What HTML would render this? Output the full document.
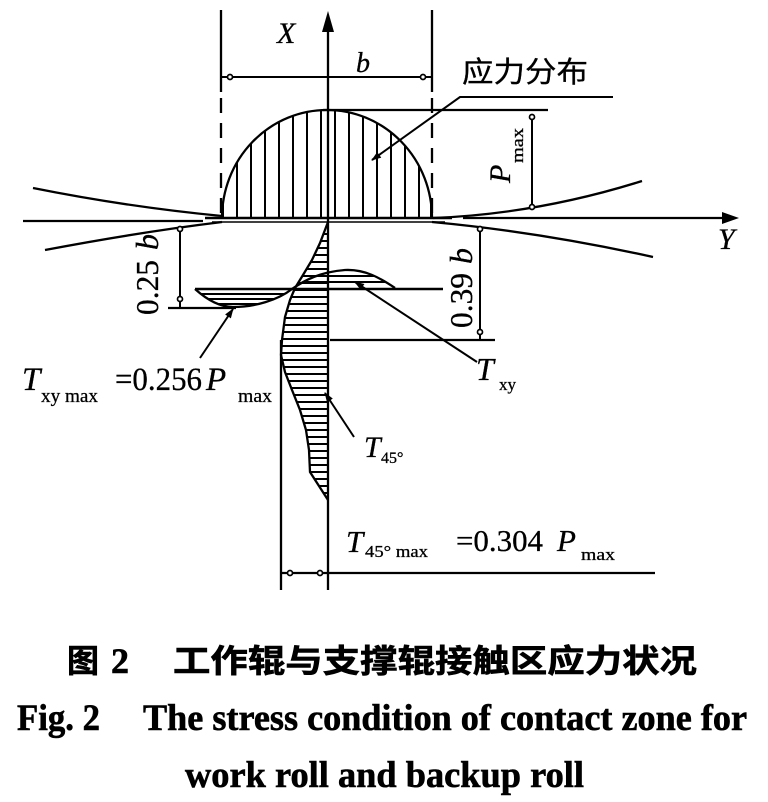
<!DOCTYPE html>
<html><head><meta charset="utf-8">
<style>
html,body{margin:0;padding:0;background:#fff;}
svg{display:block;}
.ser{font-family:"Liberation Serif",serif;}
.it{font-family:"Liberation Serif",serif;font-style:italic;}
.cjk{font-family:"Liberation Sans","Noto Sans CJK SC",sans-serif;}
text{stroke:#000;stroke-width:0.3;}
.bold{stroke-width:0.6;}
</style></head>
<body>
<svg width="768" height="802" viewBox="0 0 768 802" xmlns="http://www.w3.org/2000/svg">
<rect width="768" height="802" fill="#fff" stroke="none"/>
<defs>
<marker id="ah" markerWidth="10" markerHeight="8" refX="9" refY="4" orient="auto" markerUnits="userSpaceOnUse"><path d="M0,0.5 L10,4 L0,7.5 z" fill="#000"/></marker>
<clipPath id="ell"><path d="M222,218 A105,108 0 0 1 432,218 Z"/></clipPath>
<clipPath id="t45"><polygon points="328,222 320,243 312,260 303,275 295,288 290,300 285,317 282,340 281,355 285,372 292,390 300,410 306,430 309,450 310,472 328,500"/></clipPath>
<clipPath id="lobeL"><path d="M195,289 C205,298 218,307 233,307 C255,307 278,300 292,289 Z"/></clipPath>
<clipPath id="lobeR"><path d="M292,289 C305,280 320,272 345,270 C365,269 380,278 395,288 Z"/></clipPath>
</defs>

<g stroke="#000" fill="none" stroke-width="2.3">
<line x1="328" y1="28" x2="328" y2="590"/>
<line x1="221" y1="10" x2="221" y2="92"/>
<line x1="432" y1="10" x2="432" y2="92"/>
<line x1="221" y1="98" x2="221" y2="216" stroke-dasharray="15,10"/>
<line x1="432" y1="98" x2="432" y2="216" stroke-dasharray="15,10"/>
<line x1="221" y1="77" x2="432" y2="77" stroke-width="2"/>
<path d="M222,218 A105,108 0 0 1 432,218"/>
<path clip-path="url(#ell)" stroke-width="2" d="M223,100V218M237,100V218M251,100V218M265,100V218M279,100V218M293,100V218M307,100V218M321,100V218M335,100V218M349,100V218M363,100V218M377,100V218M391,100V218M405,100V218M419,100V218M431,100V218"/>
<line x1="205" y1="218" x2="452" y2="218" stroke-width="2.5"/>
<line x1="212" y1="222" x2="445" y2="222" stroke-width="1.6"/>
<line x1="323" y1="110" x2="548" y2="110"/>
<polyline points="613,97 460,97 372,160" stroke-width="2" marker-end="url(#ah)"/>
<line x1="532" y1="115" x2="532" y2="210" stroke-width="2"/>
<line x1="463" y1="218" x2="726" y2="218"/>
<line x1="23" y1="221" x2="203" y2="221"/>
<path d="M33,188 Q128,207 222,216"/>
<path d="M433,218 Q537,214 642,181"/>
<path d="M45,250 Q140,232 222,222"/>
<path d="M432,222 Q540,232 653,257"/>
<line x1="180" y1="229" x2="180" y2="308" stroke-width="2"/>
<line x1="168" y1="308" x2="236" y2="308"/>
<line x1="480" y1="229" x2="480" y2="340" stroke-width="2"/>
<line x1="330" y1="340" x2="495" y2="340"/>
<path clip-path="url(#t45)" stroke-width="2" d="M270,227H330M270,234H330M270,241H330M270,248H330M270,255H330M270,262H330M270,269H330M270,276H330M270,283H330M270,290H330M270,297H330M270,304H330M270,311H330M270,318H330M270,325H330M270,332H330M270,339H330M270,346H330M270,353H330M270,360H330M270,367H330M270,374H330M270,381H330M270,388H330M270,395H330M270,402H330M270,409H330M270,416H330M270,423H330M270,430H330M270,437H330M270,444H330M270,451H330M270,458H330M270,465H330M270,472H330M270,479H330M270,486H330M270,493H330"/>
<polyline points="328,222 320,243 312,260 303,275 295,288 290,300 285,317 282,340 281,355 285,372 292,390 300,410 306,430 309,450 310,472 328,500"/>
<line x1="281" y1="340" x2="281" y2="590"/>
<path d="M195,289 C205,298 218,307 233,307 C255,307 278,300 292,289 C305,280 320,272 345,270 C365,269 380,278 395,288"/>
<line x1="195" y1="289" x2="443" y2="289" stroke-width="2.5"/>
<path clip-path="url(#lobeL)" stroke-width="2" d="M180,294H300M180,299H300M180,304H300"/>
<path clip-path="url(#lobeR)" stroke-width="2" d="M290,276H400M290,282H400"/>
<line x1="477" y1="362" x2="355" y2="282" stroke-width="2" marker-end="url(#ah)"/>
<line x1="200" y1="358" x2="233" y2="309" stroke-width="2" marker-end="url(#ah)"/>
<line x1="354" y1="437" x2="325" y2="393" stroke-width="2" marker-end="url(#ah)"/>
<line x1="281" y1="573" x2="655" y2="573"/>
</g>

<polygon points="328,11 322,32 334,32" fill="#000"/>
<polygon points="739,218 722,212 722,224" fill="#000"/>

<g fill="#fff" stroke="#000" stroke-width="1.7">
<circle cx="230" cy="77" r="2.5"/><circle cx="423" cy="77" r="2.5"/>
<circle cx="532" cy="117" r="2.5"/><circle cx="532" cy="207" r="2.5"/>
<circle cx="180" cy="229" r="2.5"/><circle cx="180" cy="299" r="2.5"/>
<circle cx="480" cy="229" r="2.5"/><circle cx="480" cy="332" r="2.5"/>
<circle cx="290" cy="573" r="2.5"/><circle cx="320" cy="573" r="2.5"/>
</g>

<text class="it" x="277" y="43" font-size="30">X</text>
<text class="it" x="356" y="72" font-size="28">b</text>
<text class="it" x="718" y="249" font-size="30">Y</text>
<text class="cjk" x="462" y="82" font-size="29" textLength="126" lengthAdjust="spacingAndGlyphs">应力分布</text>

<text class="it" font-size="30" transform="translate(510,183) rotate(-90)">P</text>
<text class="ser" font-size="17" transform="translate(523,163) rotate(-90)" textLength="35" lengthAdjust="spacingAndGlyphs">max</text>

<text class="ser" font-size="32" transform="translate(158,315) rotate(-90)" textLength="55" lengthAdjust="spacingAndGlyphs">0.25</text>
<text class="it" font-size="32" transform="translate(158,250) rotate(-90)">b</text>

<text class="ser" font-size="32" transform="translate(472,328) rotate(-90)" textLength="55" lengthAdjust="spacingAndGlyphs">0.39</text>
<text class="it" font-size="32" transform="translate(472,264) rotate(-90)">b</text>

<text class="it" x="22" y="390" font-size="33">T</text>
<text class="ser" x="41" y="402" font-size="19" textLength="57" lengthAdjust="spacingAndGlyphs">xy max</text>
<text class="ser" x="115" y="390" font-size="33" textLength="87" lengthAdjust="spacingAndGlyphs">=0.256</text>
<text class="it" x="206" y="390" font-size="33">P</text>
<text class="ser" x="238" y="402" font-size="19" textLength="34" lengthAdjust="spacingAndGlyphs">max</text>

<text class="it" x="476" y="380" font-size="32">T</text>
<text class="ser" x="499" y="390" font-size="17">xy</text>

<text class="it" x="364" y="457" font-size="30">T</text>
<text class="ser" x="381" y="463" font-size="16">45°</text>

<text class="it" x="346" y="552" font-size="31">T</text>
<text class="ser" x="365" y="557" font-size="17" textLength="63" lengthAdjust="spacingAndGlyphs">45° max</text>
<text class="ser" x="456" y="551" font-size="31" textLength="87" lengthAdjust="spacingAndGlyphs">=0.304</text>
<text class="it" x="557" y="551" font-size="31">P</text>
<text class="ser" x="581" y="560" font-size="17" textLength="34" lengthAdjust="spacingAndGlyphs">max</text>

<text class="cjk bold" x="67" y="672" font-size="32" font-weight="bold">图</text>
<text class="ser bold" x="111" y="673" font-size="36" font-weight="bold">2</text>
<text class="cjk bold" x="173" y="672" font-size="32" font-weight="bold" textLength="524" lengthAdjust="spacingAndGlyphs">工作辊与支撑辊接触区应力状况</text>

<text class="ser bold" x="17" y="730" font-size="37" font-weight="bold" textLength="83" lengthAdjust="spacingAndGlyphs">Fig. 2</text>
<text class="ser bold" x="143" y="730" font-size="37" font-weight="bold" textLength="604" lengthAdjust="spacingAndGlyphs">The stress condition of contact zone for</text>
<text class="ser bold" x="185" y="787" font-size="37" font-weight="bold" textLength="399" lengthAdjust="spacingAndGlyphs">work roll and backup roll</text>
</svg>
</body></html>
